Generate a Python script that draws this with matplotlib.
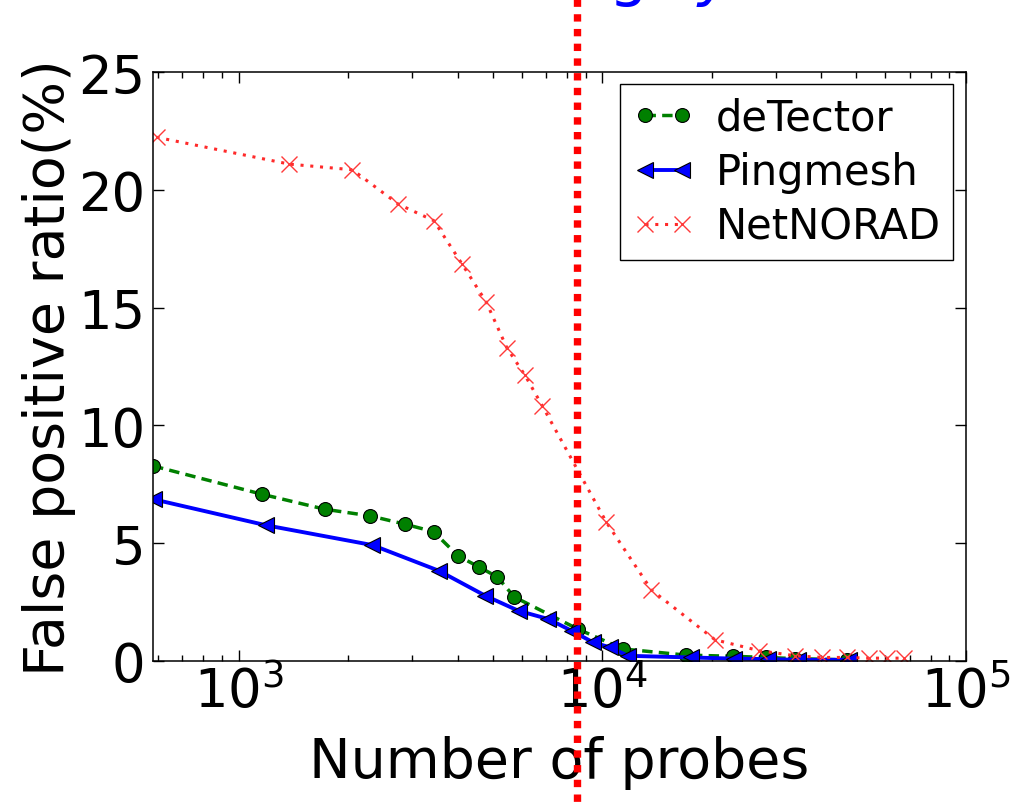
import numpy as np
import matplotlib
matplotlib.use('Agg')
import matplotlib.pyplot as plt
from matplotlib.lines import Line2D

# --- dados ---
x_detector = [582, 1158, 1728, 2299, 2862, 3436, 4015, 4571, 5145, 5728,
              8558, 11418, 17000, 22900, 28200, 34000, 47000]
y_detector = [8.28, 7.08, 6.44, 6.16, 5.81, 5.49, 4.46, 4.0, 3.57, 2.72,
              1.36, 0.51, 0.25, 0.2, 0.15, 0.1, 0.05]

x_pingmesh = [585, 1191, 2333, 3555, 4771, 5887, 7112, 8241, 9442, 10499,
              11776, 17500, 23100, 28500, 34500, 47600]
y_pingmesh = [6.86, 5.76, 4.92, 3.83, 2.77, 2.13, 1.78, 1.28, 0.79, 0.58,
              0.22, 0.15, 0.1, 0.08, 0.05, 0.05]

x_netnorad = [595, 1379, 2056, 2749, 3443, 4117, 4800, 5468, 6137, 6848,
              10275, 13650, 20430, 27000, 34000, 40300, 47200, 54200,
              60700, 67400]
y_netnorad = [22.23, 21.09, 20.85, 19.39, 18.69, 16.85, 15.23, 13.29, 12.12,
              10.82, 5.88, 3.02, 0.90, 0.44, 0.22, 0.15, 0.15, 0.12, 0.12,
              0.12]

y_ticks = [0, 5, 10, 15, 20, 25]

plt.rcParams['font.family'] = ['DejaVu Sans']
plt.rcParams['mathtext.default'] = 'regular'

fig = plt.figure(figsize=(10.17, 8.03), dpi=100)
ax = fig.add_axes([0.150, 0.1756, 0.7997, 0.7335])

ax.semilogx(x_detector, y_detector, '--', color='g', lw=2.5, dashes=(3, 1.8),
            marker='o', ms=10, mfc='g', mec='k', mew=0.8, label='deTector')
ax.semilogx(x_pingmesh, y_pingmesh, '-', color='b', lw=2.8,
            marker='<', ms=11, mfc='b', mec='k', mew=0.8, label='Pingmesh')
ax.semilogx(x_netnorad, y_netnorad, color='#ff2a2a', lw=2.2, ls=(0, (1, 2.2)),
            marker='x', ms=11, mew=1.0, mec='#ff3a3a', label='NetNORAD')

ax.set_xlim(580, 1e5)
ax.set_ylim(0, 25)
ax.set_yticks(y_ticks)

ax.tick_params(which='both', direction='in', top=True, right=True, width=1)
ax.tick_params(which='major', length=8)
ax.tick_params(which='minor', length=4.5)
ax.tick_params(axis='y', labelsize=38, pad=5)
ax.tick_params(axis='x', labelsize=38, pad=3)
for s in ax.spines.values():
    s.set_linewidth(1.1)

ax.set_xlabel('Number of probes', fontsize=40, labelpad=12)
ax.set_ylabel('False positive ratio(%)', fontsize=40, labelpad=2)

leg = ax.legend(loc='upper right', fontsize=30, numpoints=2, fancybox=False,
                framealpha=1, edgecolor='k', borderpad=0.3, labelspacing=0.3,
                handlelength=1.5, handletextpad=0.5, borderaxespad=0.3)
leg.get_frame().set_linewidth(1.0)

# linha vertical pontilhada vermelha sobre toda a figura
xl = 577 / 1017
fig.add_artist(Line2D([xl, xl], [1.0, 0.0], transform=fig.transFigure,
                      color='red', lw=5.3, ls=(0, (1, 1)),
                      dash_capstyle='butt', zorder=10))

# texto azul cortado no topo (como na imagem original)
fig.text(628 / 1017, 1 + 6 / 803, 'g', color='blue', fontsize=44,
         ha='center', va='baseline')
fig.text(716 / 1017, 1 + 6 / 803, 'y', color='blue', fontsize=44,
         ha='center', va='baseline', style='italic')

fig.savefig('out.png', dpi=100)
